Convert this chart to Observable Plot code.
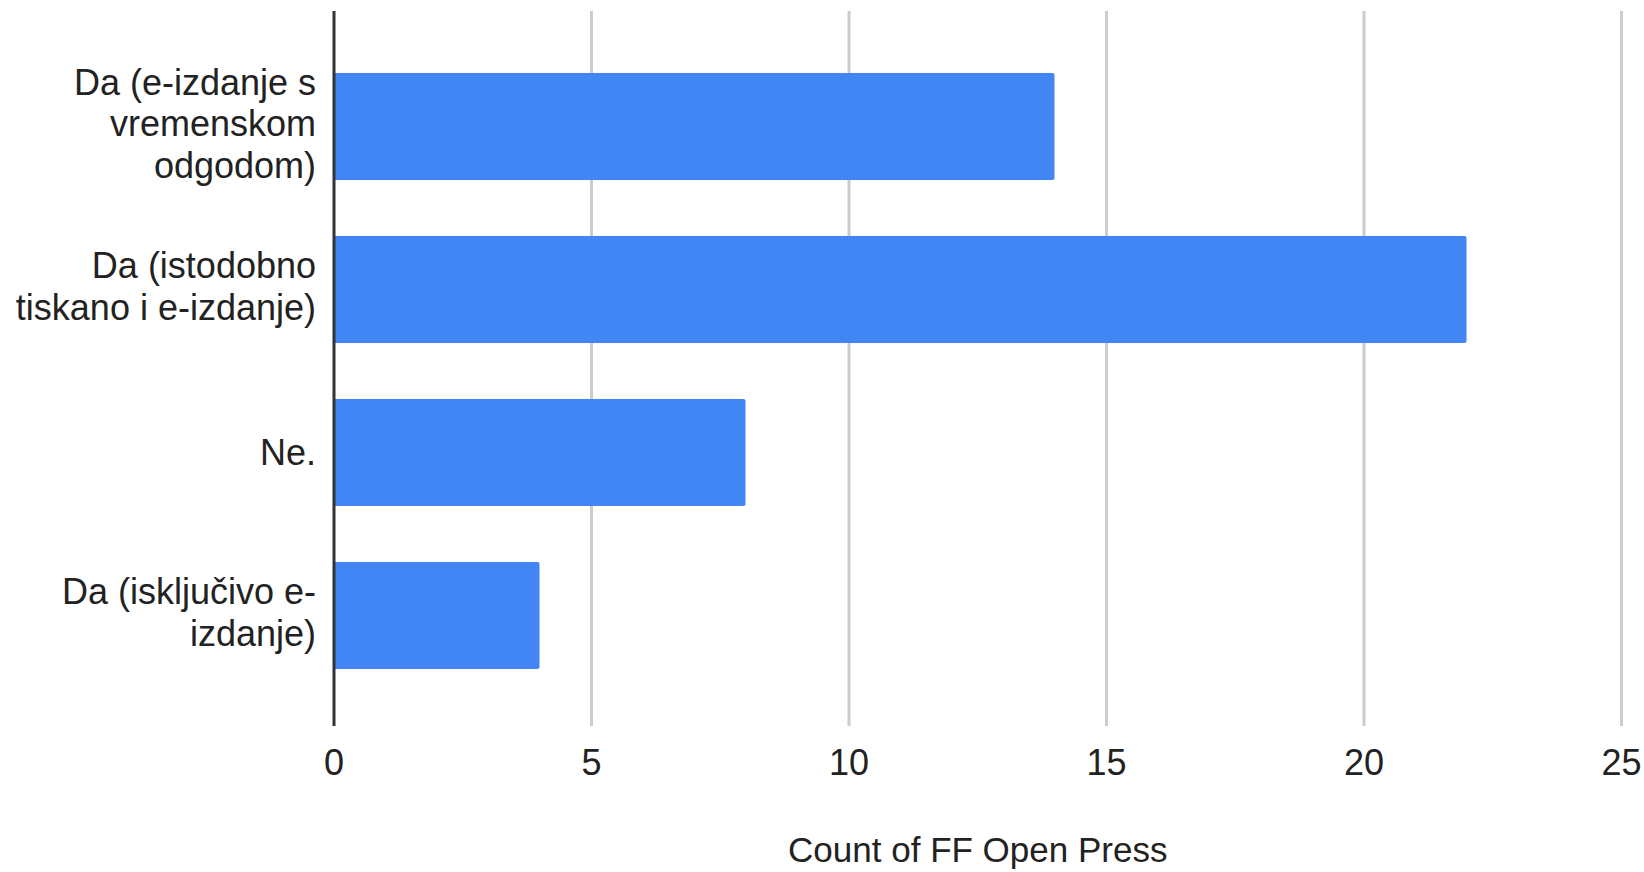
<!DOCTYPE html>
<html>
<head>
<meta charset="utf-8">
<script src="https://cdn.jsdelivr.net/npm/d3@7"></script>
<script src="https://cdn.jsdelivr.net/npm/@observablehq/plot@0.6"></script>
<style>
  html, body { margin: 0; padding: 0; background: #fff; }
  #chart svg { display: block; }
</style>
</head>
<body>
<div id="chart"></div>
<script>
const categories = [
  "Da (e-izdanje s vremenskom odgodom)",
  "Da (istodobno tiskano i e-izdanje)",
  "Ne.",
  "Da (isključivo e-izdanje)"
];
const counts = [14, 22, 8, 4];
const categoryLabels = [
  "Da (e-izdanje s\nvremenskom\nodgodom)",
  "Da (istodobno\ntiskano i e-izdanje)",
  "Ne.",
  "Da (isključivo e-\nizdanje)"
];
const xTicks = [0, 5, 10, 15, 20, 25];
const gridTicks = [5, 10, 15, 20, 25];
const axisTitle = "Count of FF Open Press";

const data = categories.map((c, i) => ({category: c, count: counts[i]}));
const labelOf = new Map(categories.map((c, i) => [c, categoryLabels[i]]));
const multiLine = categories.filter((c, i) => categoryLabels[i].includes("\n"));
const singleLine = categories.filter((c, i) => !categoryLabels[i].includes("\n"));

const font = "'Liberation Sans', Arial, Helvetica, sans-serif";

const chart = Plot.plot({
  width: 1644,
  height: 872,
  marginLeft: 333.5,
  marginRight: 23,
  marginTop: 11,
  marginBottom: 146,
  style: {fontFamily: font, color: "#222", background: "#fff"},
  x: {domain: [0, 25], ticks: xTicks},
  y: {domain: categories, range: [72, 669], paddingInner: 0.344, paddingOuter: 0},
  marks: [
    Plot.ruleX(gridTicks, {stroke: "#cccccc", strokeWidth: 3}),
    Plot.barX(data, {x: "count", y: "category", fill: "#4285f4", rx: 2}),
    Plot.ruleX([0], {stroke: "#333333", strokeWidth: 3}),
    Plot.axisX({ticks: xTicks, tickSize: 0, tickPadding: 23, fontSize: 36, label: null, fill: "#222"}),
    Plot.axisY({ticks: multiLine, tickSize: 0, tickPadding: 18, fontSize: 36, lineHeight: 1.16, dy: -4,
      label: null, fill: "#222", tickFormat: d => labelOf.get(d)}),
    Plot.axisY({ticks: singleLine, tickSize: 0, tickPadding: 18, fontSize: 36,
      label: null, fill: "#222", tickFormat: d => labelOf.get(d)}),
    Plot.text([axisTitle], {text: d => d, frameAnchor: "bottom", dy: 124, lineAnchor: "middle",
      fontSize: 35, fill: "#222"})
  ]
});
document.getElementById("chart").appendChild(chart);
</script>
</body>
</html>
